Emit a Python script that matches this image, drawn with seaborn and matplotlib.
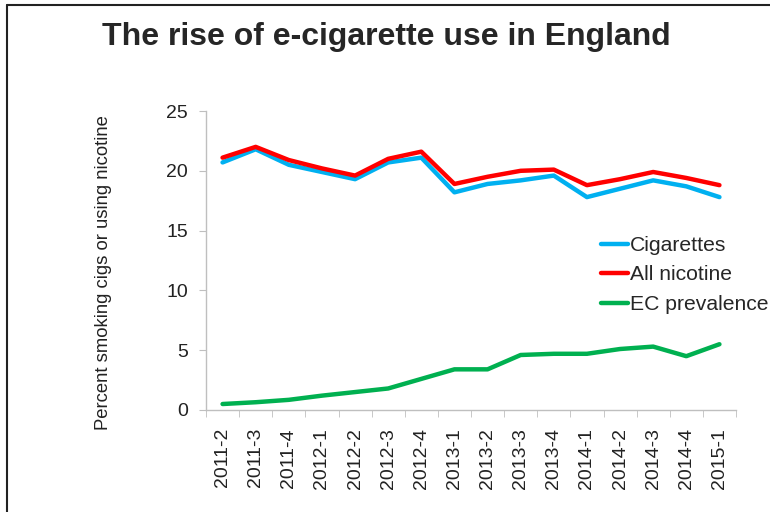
import pandas as pd
import seaborn as sns
import matplotlib.pyplot as plt
from matplotlib.lines import Line2D
from matplotlib.ticker import FixedLocator

# Datos
trimestres = ['2011-2', '2011-3', '2011-4', '2012-1', '2012-2', '2012-3', '2012-4', '2013-1',
              '2013-2', '2013-3', '2013-4', '2014-1', '2014-2', '2014-3', '2014-4', '2015-1']
cigarrillos = [20.7, 21.8, 20.5, 19.9, 19.3, 20.7, 21.1, 18.2,
               18.9, 19.2, 19.6, 17.8, 18.5, 19.2, 18.7, 17.8]
toda_nicotina = [21.1, 22.0, 20.9, 20.2, 19.6, 21.0, 21.6, 18.9,
                 19.5, 20.0, 20.1, 18.8, 19.3, 19.9, 19.4, 18.8]
prevalencia_ec = [0.5, 0.65, 0.85, 1.2, 1.5, 1.8, 2.6, 3.4,
                  3.4, 4.6, 4.7, 4.7, 5.1, 5.3, 4.5, 5.5]
series = ['Cigarettes', 'All nicotine', 'EC prevalence']
colores = ['#00B0F0', '#FF0000', '#00B050']

df = pd.DataFrame({
    'trimestre': trimestres * 3,
    'valor': cigarrillos + toda_nicotina + prevalencia_ec,
    'serie': [s for s in series for _ in trimestres],
})

sns.set_style('white')
plt.rcParams['font.family'] = ['Liberation Sans', 'DejaVu Sans']

fig = plt.figure(figsize=(7.7, 5.12), dpi=100)
ax = fig.add_axes([206 / 770, 1 - 410 / 512, (736 - 206) / 770, (410 - 111) / 512])

sns.lineplot(data=df, x='trimestre', y='valor', hue='serie', hue_order=series,
             palette=colores, sort=False, linewidth=3.2, ax=ax, legend=False)

ax.set_xlim(-0.5, len(trimestres) - 0.5)
ax.set_ylim(0, 25)
ax.set_yticks(range(0, 26, 5))
ax.set_xticks(range(len(trimestres)))
ax.set_xticklabels(trimestres, rotation=90)
ax.xaxis.set_minor_locator(FixedLocator([i - 0.5 for i in range(len(trimestres) + 1)]))

for lado in ['top', 'right']:
    ax.spines[lado].set_visible(False)
for lado in ['left', 'bottom']:
    ax.spines[lado].set_color('#bfbfbf')
    ax.spines[lado].set_linewidth(1)

ax.tick_params(axis='x', which='major', length=0, labelsize=14, pad=13, colors='#222222')
ax.tick_params(axis='x', which='minor', length=5, color='#bfbfbf', direction='out', bottom=True)
ax.tick_params(axis='y', length=5, color='#bfbfbf', direction='out', left=True,
               labelsize=14, labelcolor='#222222', pad=8)
ax.set_xlabel('')
ax.set_ylabel('Percent smoking cigs or using nicotine', fontsize=13.3, color='#222222')
# Etiqueta del eje Y un poco más abajo y a la izquierda, como en el original
ax.yaxis.set_label_coords(-0.177, 0.46)

# Leyenda manual a la derecha, sin marco
manejadores = [Line2D([], [], color=c, linewidth=3.2) for c in colores]
fig.legend(manejadores, series, loc='center left', bbox_to_anchor=(601 / 770, 1 - 275 / 512),
           frameon=False, fontsize=15.2, handlelength=1.3, handletextpad=0.05,
           labelspacing=0.5, borderpad=0, borderaxespad=0)

fig.text(386 / 770, 1 - 37 / 512, 'The rise of e-cigarette use in England',
         ha='center', va='center', fontsize=23, fontweight='bold')

# Marco exterior (izquierda y arriba)
fig.add_artist(Line2D([7 / 770, 7 / 770], [0, 1 - 5 / 512], color='#222222', linewidth=1.5))
fig.add_artist(Line2D([7 / 770, 1], [1 - 5 / 512, 1 - 5 / 512], color='#222222', linewidth=1.5))

fig.savefig('out.png', dpi=100)
